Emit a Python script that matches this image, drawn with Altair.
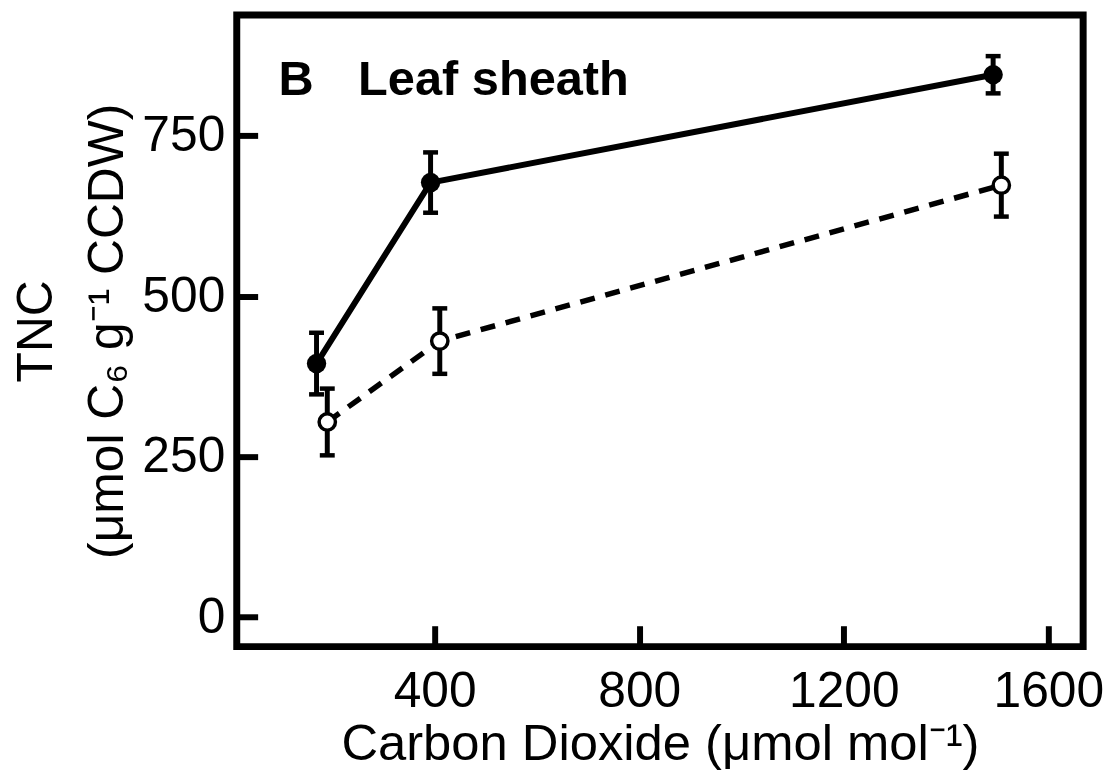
import altair as alt
import pandas as pd

# Values
co2_filled = [169, 392, 1492]
tnc_filled = [395, 677, 845]
err_filled = [48, 47, 29]

co2_open = [190, 410, 1508]
tnc_open = [304, 430, 673]
err_open = [52, 51, 49]

x_ticks = [400, 800, 1200, 1600]
y_ticks = [0, 250, 500, 750]

panel_letter = ["B"]
panel_name = ["Leaf sheath"]
x_title = "Carbon Dioxide (μmol mol⁻¹)"
y_title = ["TNC", "(μmol C₆ g⁻¹ CCDW)"]

rows = []
for g, xs, ys, es in [("filled", co2_filled, tnc_filled, err_filled),
                      ("open", co2_open, tnc_open, err_open)]:
    for xv, yv, ev in zip(xs, ys, es):
        rows.append({"group": g, "co2": xv, "tnc": yv, "lo": yv - ev, "hi": yv + ev})
df = pd.DataFrame(rows)

FONT = "Liberation Sans"
common_axis = dict(grid=False, domain=False, tickColor="black", tickWidth=6,
                   tickSize=21, offset=-21, labelFontSize=50, labelColor="black",
                   labelFont=FONT, titleFont=FONT,
                   titleColor="black", titleFontWeight="normal", labelOverlap=False,
                   format="d")

x_axis = alt.Axis(values=x_ticks, title=x_title, labelPadding=20, titlePadding=4,
                  titleFontSize=51, **common_axis)
y_axis = alt.Axis(values=y_ticks, title=y_title, labelPadding=12, titlePadding=9,
                  titleFontSize=50, titleLineHeight=72, **common_axis)

x_scale = alt.Scale(domain=[13, 1668], nice=False, zero=False)
y_scale = alt.Scale(domain=[-46, 938], nice=False, zero=False)


def X():
    return alt.X("co2:Q", scale=x_scale, axis=x_axis)


def Y(field):
    return alt.Y(f"{field}:Q", scale=y_scale, axis=y_axis)


base = alt.Chart(df)

line_filled = base.transform_filter(alt.datum.group == "filled").mark_line(
    color="black", strokeWidth=6).encode(x=X(), y=Y("tnc"))
line_open = base.transform_filter(alt.datum.group == "open").mark_line(
    color="black", strokeWidth=5.5, strokeDash=[15, 11]).encode(x=X(), y=Y("tnc"))

err_rule = base.mark_rule(color="black", strokeWidth=5).encode(
    x=X(), y=Y("lo"), y2="hi:Q")
cap_lo = base.mark_tick(color="black", orient="horizontal", size=15, thickness=4.5,
                        opacity=1).encode(x=X(), y=Y("lo"))
cap_hi = base.mark_tick(color="black", orient="horizontal", size=15, thickness=4.5,
                        opacity=1).encode(x=X(), y=Y("hi"))

pts_filled = base.transform_filter(alt.datum.group == "filled").mark_circle(
    size=380, color="black", opacity=1).encode(x=X(), y=Y("tnc"))
pts_open = base.transform_filter(alt.datum.group == "open").mark_circle(
    size=269, fill="white", stroke="black", strokeWidth=3.5, opacity=1,
    fillOpacity=1).encode(x=X(), y=Y("tnc"))

txt_letter = alt.Chart(pd.DataFrame({"t": panel_letter})).mark_text(
    align="left", baseline="alphabetic", fontSize=49, fontWeight="bold",
    font=FONT, color="black").encode(text="t:N", x=alt.value(42), y=alt.value(80))
txt_name = alt.Chart(pd.DataFrame({"t": panel_name})).mark_text(
    align="left", baseline="alphabetic", fontSize=49, fontWeight="bold",
    font=FONT, color="black").encode(text="t:N", x=alt.value(122), y=alt.value(80))

chart = alt.layer(
    line_filled, line_open, err_rule, cap_lo, cap_hi, pts_filled, pts_open,
    txt_letter, txt_name
).properties(
    width=851, height=635,
    autosize=alt.AutoSizeParams(type="none"),
    padding={"left": 230, "top": 5, "right": 26, "bottom": 127},
).configure(
    font=FONT, background="white"
).configure_view(
    stroke="black", strokeWidth=7
)

chart.save("out.html", embed_options={"renderer": "svg", "actions": False})
